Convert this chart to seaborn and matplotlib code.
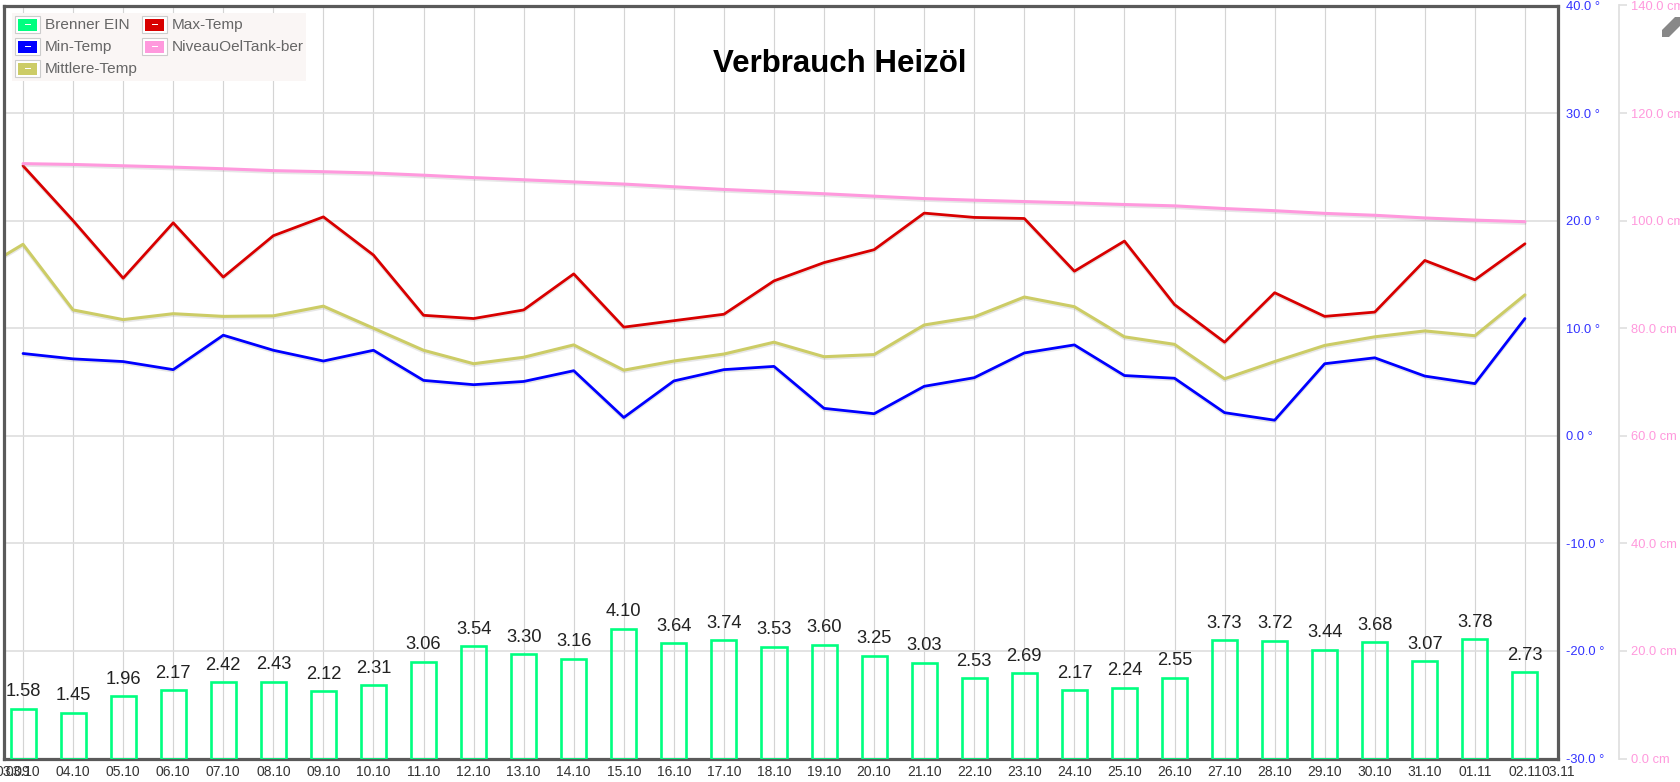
# -*- coding: utf-8 -*-
import numpy as np
import matplotlib
matplotlib.use("Agg")
import matplotlib.pyplot as plt
import seaborn as sns
from matplotlib.patches import Rectangle, Polygon
import matplotlib.patheffects as pe

W, H = 1681, 782

dates = ["03.10", "04.10", "05.10", "06.10", "07.10", "08.10", "09.10", "10.10",
         "11.10", "12.10", "13.10", "14.10", "15.10", "16.10", "17.10", "18.10",
         "19.10", "20.10", "21.10", "22.10", "23.10", "24.10", "25.10", "26.10",
         "27.10", "28.10", "29.10", "30.10", "31.10", "01.11", "02.11"]

brenner = [1.58, 1.45, 1.96, 2.17, 2.42, 2.43, 2.12, 2.31, 3.06, 3.54, 3.30, 3.16,
           4.10, 3.64, 3.74, 3.53, 3.60, 3.25, 3.03, 2.53, 2.69, 2.17, 2.24, 2.55,
           3.73, 3.72, 3.44, 3.68, 3.07, 3.78, 2.73]

max_temp = [25.1, 20.0, 14.65, 19.8, 14.75, 18.6, 20.35, 16.8, 11.2, 10.9, 11.7,
            15.05, 10.1, 10.7, 11.3, 14.4, 16.1, 17.3, 20.7, 20.3, 20.2, 15.3,
            18.1, 12.2, 8.7, 13.3, 11.1, 11.5, 16.3, 14.5, 17.85]

min_temp = [7.65, 7.15, 6.9, 6.15, 9.35, 7.95, 6.95, 7.95, 5.15, 4.75, 5.05, 6.05,
            1.7, 5.1, 6.15, 6.45, 2.55, 2.05, 4.6, 5.4, 7.7, 8.45, 5.6, 5.35, 2.15,
            1.45, 6.7, 7.25, 5.55, 4.85, 10.9]

# this one starts a day earlier, the first point is cut off by the axis
mittlere_days = list(range(-1, 31))
mittlere_temp = [15.0, 17.8, 11.7, 10.8, 11.35, 11.1, 11.15, 12.05, 10.0, 7.95, 6.7,
                 7.3, 8.45, 6.1, 6.95, 7.6, 8.7, 7.35, 7.55, 10.3, 11.05, 12.9, 12.0,
                 9.2, 8.5, 5.3, 6.9, 8.4, 9.2, 9.75, 9.3, 13.1]

niveau = [110.6, 110.45, 110.2, 109.95, 109.65, 109.3, 109.1, 108.85, 108.45, 108.0,
          107.6, 107.2, 106.8, 106.3, 105.8, 105.4, 105.0, 104.55, 104.1, 103.8,
          103.55, 103.3, 103.0, 102.75, 102.25, 101.85, 101.35, 101.0, 100.5, 100.1,
          99.8]

temp_ticks = [-30, -20, -10, 0, 10, 20, 30, 40]
cm_ticks = [0, 20, 40, 60, 80, 100, 120, 140]

legend_names = ["Brenner EIN", "Min-Temp", "Mittlere-Temp", "Max-Temp", "NiveauOelTank-ber"]
legend_colors = ["#00ff80", "#0000ff", "#cccc66", "#d80000", "#ff99dd"]

GREEN, BLUE, OLIVE, RED, PINK = legend_colors

sns.set_theme(style="white")
plt.rcParams["font.family"] = ["Liberation Sans", "DejaVu Sans"]

fig = plt.figure(figsize=(W / 100, H / 100), dpi=100)
left, right, top, bottom = 4.5, 1558, 5.5, 758.5
ax = fig.add_axes([left / W, 1 - bottom / H, (right - left) / W, (bottom - top) / H])
ax2 = ax.twinx()
ax3 = ax.twinx()

days = np.arange(len(dates))
shadow = [pe.SimpleLineShadow(offset=(0, -1.2), shadow_color="#888888", alpha=0.2),
          pe.Normal()]

# temperature lines
sns.lineplot(x=days, y=max_temp, ax=ax, color=RED, linewidth=2.0, path_effects=shadow)
sns.lineplot(x=days, y=min_temp, ax=ax, color=BLUE, linewidth=2.0, path_effects=shadow)
sns.lineplot(x=mittlere_days, y=mittlere_temp, ax=ax, color=OLIVE, linewidth=2.2,
             path_effects=shadow)

# tank level on the cm axis
sns.lineplot(x=days, y=niveau, ax=ax2, color=PINK, linewidth=2.2, path_effects=shadow)

# burner hours, own hidden scale
sns.barplot(x=days, y=brenner, ax=ax3, native_scale=True, fill=False, color=GREEN,
            width=0.5, linewidth=1.9, errorbar=None, saturation=1)
for bar in ax3.patches:
    bar.set_edgecolor(GREEN)
for c in ax3.containers:
    ax3.bar_label(c, fmt="%.2f", padding=6, fontsize=13.2, color="#222222")

xmin, xmax = -0.37, 30.66
ax.set_xlim(xmin, xmax)
ax.set_ylim(-30, 40)
ax2.set_ylim(0, 140)
ax3.set_ylim(0, 23.8)
ax3.set_xlim(xmin, xmax)
ax3.yaxis.set_visible(False)
ax3.set_ylabel("")
for s in ax3.spines.values():
    s.set_visible(False)
ax3.patch.set_visible(False)
ax2.patch.set_visible(False)

# x axis, flot also prints a label at both ends
ax.set_xticks(list(days))
ax.set_xticklabels(dates)
ax.tick_params(axis="x", length=0, pad=5, labelsize=10, labelcolor="#333333")
label_y = -7 / (bottom - top)
ax.text(-0.2, label_y, "03.09", transform=ax.get_xaxis_transform(), ha="center", va="top",
        fontsize=10, color="#333333", clip_on=False)
ax.text(xmax, label_y, "03.11", transform=ax.get_xaxis_transform(), ha="center", va="top",
        fontsize=10, color="#333333", clip_on=False)
ax.xaxis.grid(True, color="#d4d4d4", linewidth=0.85)
ax.yaxis.grid(True, color="#dedede", linewidth=1.2)
ax.set_axisbelow(True)

# left hand scale drawn right of the plot
ax.yaxis.tick_right()
ax.set_yticks(temp_ticks)
ax.set_yticklabels([f"{t:.1f} °" for t in temp_ticks])
ax.tick_params(axis="y", length=0, pad=6, labelsize=9.3, labelcolor="#3333ff")

ax2.set_yticks(cm_ticks)
ax2.set_yticklabels([f"{t:.1f} cm" for t in cm_ticks])
ax2.tick_params(axis="y", length=6, width=1.1, color="#dddddd", pad=3, labelsize=9.3,
                labelcolor="#ff99dd", right=True)
ax2.grid(False)
for s in ["left", "top", "bottom"]:
    ax2.spines[s].set_visible(False)
ax2.spines["right"].set_position(("outward", (1619 - right) * 0.72))
ax2.spines["right"].set_color("#e0e0e0")
ax2.spines["right"].set_linewidth(1.3)

for s in ax.spines.values():
    s.set_visible(True)
    s.set_color("#5a5a5a")
    s.set_linewidth(2.3)
    s.set_zorder(10)

fig.text(840 / W, 1 - 64 / H, "Verbrauch Heizöl", ha="center", va="center",
         fontsize=22.5, fontweight="bold", color="black")


def px_rect(x, y, w, h, **kw):
    fig.add_artist(Rectangle((x / W, 1 - (y + h) / H), w / W, h / H,
                             transform=fig.transFigure, **kw))


# legend box, swatches with the small white dash like flot does
px_rect(12, 13, 294, 68, facecolor="#faf6f5", edgecolor="none")
col_x = [15, 142]
row_y = [16, 38, 60]
slots = [(0, 0), (0, 1), (0, 2), (1, 0), (1, 1)]
for name, color, (c, r) in zip(legend_names, legend_colors, slots):
    x, y = col_x[c], row_y[r]
    px_rect(x, y, 25, 17, facecolor="white", edgecolor="#cccccc", linewidth=0.8)
    px_rect(x + 3, y + 3, 19, 12, facecolor=color, edgecolor="none")
    px_rect(x + 10, y + 8, 6, 1.2, facecolor="white", edgecolor="none")
    fig.text((x + 30) / W, 1 - (y + 9) / H, name, ha="left", va="center",
             fontsize=11.1, color="#666666")

# edit pencil in the corner, cut by the image edge
pencil = [(1662, 37), (1662, 30), (1675, 17), (1681, 17), (1681, 25), (1669, 37)]
fig.add_artist(Polygon([(px / W, 1 - py / H) for px, py in pencil],
                       transform=fig.transFigure, facecolor="#888888", edgecolor="none"))

fig.savefig("out.png", dpi=100)
